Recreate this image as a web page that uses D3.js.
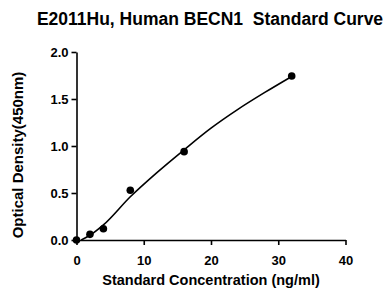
<!DOCTYPE html>
<html>
<head>
<meta charset="utf-8">
<script src="https://cdn.jsdelivr.net/npm/d3@7"></script>
<style>
  body { margin: 0; background: #fff; }
  text { font-family: "Liberation Sans", Arial, sans-serif; font-weight: bold; fill: #000; white-space: pre; }
</style>
</head>
<body>
<div id="chart"></div>
<script>
// standard points
var conc = [0, 2, 4, 8, 16, 32];
var od = [0.0, 0.06, 0.12, 0.53, 0.94, 1.745];

// fitted curve
var fitConc = [0.7, 2, 4, 8, 12, 16, 20, 24, 28, 32];
var fitOd = [0.0, 0.05, 0.16, 0.46, 0.72, 0.96, 1.19, 1.39, 1.57, 1.74];

var xTicks = [0, 10, 20, 30, 40];
var yTicks = [0.0, 0.5, 1.0, 1.5, 2.0];

var margin = {top: 52, right: 38, bottom: 49, left: 76.5},
    width = 383 - margin.left - margin.right,
    height = 289 - margin.top - margin.bottom;

var svg = d3.select("#chart")
  .append("svg")
    .attr("width", 383)
    .attr("height", 289);

svg.append("text")
  .attr("x", 210)
  .attr("y", 25)
  .attr("text-anchor", "middle")
  .style("font-size", "17.5px")
  .text("E2011Hu, Human BECN1  Standard Curve");

var g = svg.append("g")
  .attr("transform", "translate(" + margin.left + "," + margin.top + ")");

var x = d3.scaleLinear()
  .domain([0, 40])
  .range([0, 269]);

var y = d3.scaleLinear()
  .domain([0, 2.0])
  .range([height, 0]);

var xAxis = g.append("g")
  .attr("transform", "translate(0," + height + ")")
  .call(d3.axisBottom(x).tickValues(xTicks).tickFormat(d3.format("d")).tickSize(5).tickSizeOuter(0));

var yAxis = g.append("g")
  .call(d3.axisLeft(y).tickValues(yTicks).tickFormat(d3.format(".1f")).tickSize(5).tickSizeOuter(0));

[xAxis, yAxis].forEach(function(a) {
  a.select(".domain").attr("stroke", "#000").attr("stroke-width", 1.6);
  a.selectAll(".tick line").attr("stroke", "#000").attr("stroke-width", 1.6);
  a.selectAll("text")
    .style("font-family", "'Liberation Sans', Arial, sans-serif")
    .style("font-weight", "bold")
    .style("font-size", "13px")
    .attr("fill", "#000");
});
xAxis.selectAll("text").attr("y", 12).attr("dy", "1.0em");
yAxis.selectAll("text").attr("x", -8);

var line = d3.line()
  .x(function(d, i) { return x(fitConc[i]); })
  .y(function(d) { return y(d); })
  .curve(d3.curveMonotoneX);

g.append("path")
  .datum(fitOd)
  .attr("fill", "none")
  .attr("stroke", "#000")
  .attr("stroke-width", 1.6)
  .attr("d", line);

g.selectAll("circle.pt")
  .data(od)
  .enter()
  .append("circle")
    .attr("class", "pt")
    .attr("cx", function(d, i) { return x(conc[i]); })
    .attr("cy", function(d) { return y(d); })
    .attr("r", 3.8)
    .attr("fill", "#000");

svg.append("text")
  .attr("x", 211)
  .attr("y", 285)
  .attr("text-anchor", "middle")
  .style("font-size", "14.5px")
  .text("Standard Concentration (ng/ml)");

svg.append("text")
  .attr("transform", "translate(23,155) rotate(-90)")
  .attr("text-anchor", "middle")
  .style("font-size", "15px")
  .text("Optical Density(450nm)");
</script>
</body>
</html>
